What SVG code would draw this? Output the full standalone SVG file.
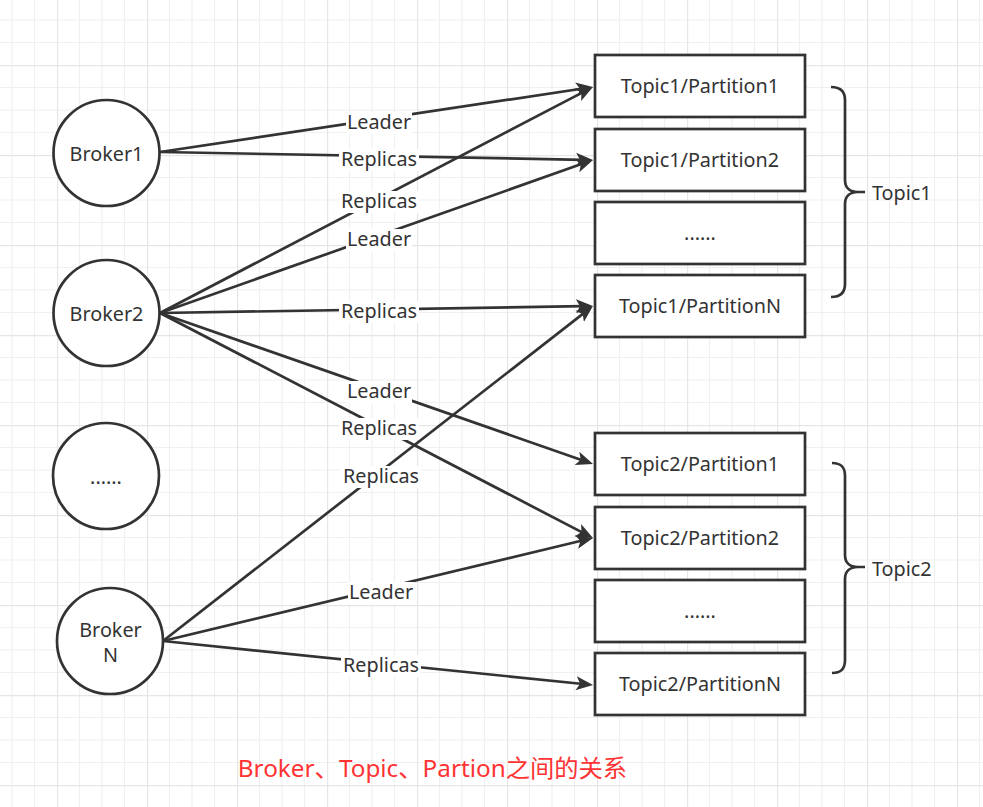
<svg xmlns="http://www.w3.org/2000/svg" width="983" height="807" viewBox="0 0 983 807">
<defs>
<pattern id="grid" patternUnits="userSpaceOnUse" x="57" y="65" width="90" height="90">
<path d="M22.5,0V90M45,0V90M67.5,0V90M0,22.5H90M0,45H90M0,67.5H90" stroke="#f0f0f0" stroke-width="1.2" fill="none"/>
<path d="M0.5,0V90M0,0.5H90" stroke="#e6e6e6" stroke-width="1.4" fill="none"/>
</pattern>
<marker id="arr" markerUnits="userSpaceOnUse" viewBox="0 0 18 16" refX="7" refY="8" markerWidth="18" markerHeight="16" orient="auto">
<path d="M17,8 L0,1 L4,8 L0,15 Z" fill="#333"/>
</marker>
<style>
.node{fill:#fff;stroke:#333;stroke-width:2.7}
.t{font-family:"Noto Sans","Open Sans","DejaVu Sans",sans-serif;font-size:19.8px;fill:#333;text-anchor:middle}
.ts{font-family:"Noto Sans","Open Sans","DejaVu Sans",sans-serif;font-size:19.8px;fill:#333}
.e{fill:none;stroke:#333;stroke-width:2.7;marker-end:url(#arr)}
.lb{fill:#fff}
.br{fill:none;stroke:#333;stroke-width:2.7}
.cap{font-family:"Noto Sans","Noto Sans CJK SC",sans-serif;font-size:24.3px;fill:#f33;text-anchor:middle}
</style>
</defs>
<rect width="983" height="807" fill="#fff"/>
<rect width="983" height="807" fill="url(#grid)"/>

<g id="connectors">
<line class="e" x1="160" y1="152" x2="583.1" y2="88.5"/>
<line class="e" x1="160" y1="152" x2="583.0" y2="159.8"/>
<line class="e" x1="160" y1="313" x2="584.1" y2="91.6"/>
<line class="e" x1="160" y1="313" x2="583.6" y2="163.3"/>
<line class="e" x1="160" y1="313" x2="583.0" y2="306.2"/>
<line class="e" x1="160" y1="313" x2="583.6" y2="460.7"/>
<line class="e" x1="160" y1="313" x2="584.1" y2="533.4"/>
<line class="e" x1="163" y1="641" x2="585.1" y2="312.1"/>
<line class="e" x1="163" y1="641" x2="583.3" y2="540.3"/>
<line class="e" x1="163" y1="641" x2="583.1" y2="684.0"/>
<g id="labels">
<rect class="lb" x="346" y="112" width="66" height="22"/><text class="t" x="379" y="129">Leader</text>
<rect class="lb" x="339" y="149" width="80" height="22"/><text class="t" x="379" y="166">Replicas</text>
<rect class="lb" x="339" y="191" width="80" height="22"/><text class="t" x="379" y="208">Replicas</text>
<rect class="lb" x="346" y="229" width="66" height="22"/><text class="t" x="379" y="246">Leader</text>
<rect class="lb" x="339" y="301" width="80" height="22"/><text class="t" x="379" y="318">Replicas</text>
<rect class="lb" x="346" y="381" width="66" height="22"/><text class="t" x="379" y="398">Leader</text>
<rect class="lb" x="339" y="418" width="80" height="22"/><text class="t" x="379" y="435">Replicas</text>
<rect class="lb" x="341" y="466" width="80" height="22"/><text class="t" x="381" y="483">Replicas</text>
<rect class="lb" x="348" y="582" width="66" height="22"/><text class="t" x="381" y="599">Leader</text>
<rect class="lb" x="341" y="655" width="80" height="22"/><text class="t" x="381" y="672">Replicas</text>
</g>
</g>

<g id="broker1"><circle class="node" cx="106.5" cy="153" r="53"/><text class="t" x="106.5" y="161">Broker1</text></g>
<g id="broker2"><circle class="node" cx="106.5" cy="313" r="53"/><text class="t" x="106.5" y="321">Broker2</text></g>
<g id="brokerDots"><circle class="node" cx="106" cy="476" r="53"/><text class="t" x="106" y="484">......</text></g>
<g id="brokerN"><circle class="node" cx="110" cy="641" r="53"/><text class="t" x="110.5" y="637">Broker<tspan x="110.5" dy="25">N</tspan></text></g>

<g id="t1p1"><rect class="node" x="595" y="55" width="210" height="62"/><text class="t" x="700" y="93">Topic1/Partition1</text></g>
<g id="t1p2"><rect class="node" x="595" y="129" width="210" height="62"/><text class="t" x="700" y="167">Topic1/Partition2</text></g>
<g id="t1dots"><rect class="node" x="595" y="202" width="210" height="62"/><text class="t" x="700" y="240">......</text></g>
<g id="t1pn"><rect class="node" x="595" y="275" width="210" height="62"/><text class="t" x="700" y="313">Topic1/PartitionN</text></g>

<g id="t2p1"><rect class="node" x="595" y="433" width="210" height="62"/><text class="t" x="700" y="471">Topic2/Partition1</text></g>
<g id="t2p2"><rect class="node" x="595" y="507" width="210" height="62"/><text class="t" x="700" y="545">Topic2/Partition2</text></g>
<g id="t2dots"><rect class="node" x="595" y="580" width="210" height="62"/><text class="t" x="700" y="618">......</text></g>
<g id="t2pn"><rect class="node" x="595" y="653" width="210" height="62"/><text class="t" x="700" y="691">Topic2/PartitionN</text></g>

<g id="topic1">
<path class="br" d="M831,87 C840,87 845,91 845,100 L845,180 C845,188 850,192 858,192 L865,192 M858,192 C850,192 845,196 845,204 L845,284 C845,293 840,297 831,297"/>
<text class="ts" x="872" y="200">Topic1</text>
</g>
<g id="topic2">
<path class="br" d="M832,463 C841,463 845,467 845,476 L845,555 C845,563 850,567 858,567 L865,567 M858,567 C850,567 845,571 845,579 L845,660 C845,669 841,673 832,673"/>
<text class="ts" x="872" y="576">Topic2</text>
</g>

<g id="caption"><text class="cap" x="432.5" y="777">Broker、Topic、Partion之间的关系</text></g>
</svg>
